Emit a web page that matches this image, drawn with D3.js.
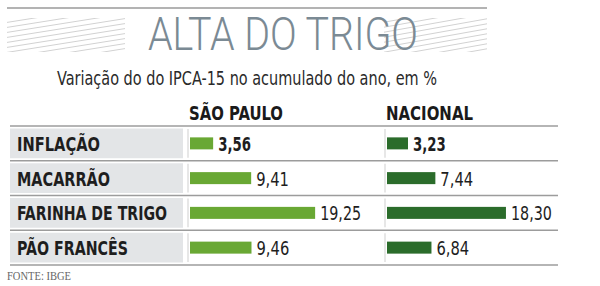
<!DOCTYPE html>
<html>
<head>
<meta charset="utf-8">
<script src="https://cdn.jsdelivr.net/npm/d3@7"></script>
<style>
body { margin: 0; background: #fff; }
svg { display: block; }
</style>
</head>
<body>
<div class="chart"></div>
<script>
var width = 600, height = 286;

var categories = ["INFLAÇÃO", "MACARRÃO", "FARINHA DE TRIGO", "PÃO FRANCÊS"];
var saoPaulo = [3.56, 9.41, 19.25, 9.46];
var nacional = [3.23, 7.44, 18.30, 6.84];
var series = ["SÃO PAULO", "NACIONAL"];

var narrow = "'Liberation Sans Narrow', 'DejaVu Sans Condensed', sans-serif";
var labelWidths = [83, 93, 150, 111];

var svg = d3.select(".chart").append("svg")
    .attr("width", width).attr("height", height);

// top rule
svg.append("line").attr("x1", 7).attr("x2", 487).attr("y1", 8).attr("y2", 8)
    .attr("stroke", "#9a9a9a").attr("stroke-width", 1.5);

// hatching left and right of the title
function hatch(x0, x1) {
    var id = "clip" + x0;
    svg.append("clipPath").attr("id", id).append("rect")
        .attr("x", x0).attr("y", 18).attr("width", x1 - x0).attr("height", 34);
    var g = svg.append("g").attr("clip-path", "url(#" + id + ")");
    for (var i = -5; i < 12; i++) {
        g.append("line")
            .attr("x1", x0 - 10).attr("y1", 20 + i * 5 + 14)
            .attr("x2", x1 + 10).attr("y2", 20 + i * 5 - 8)
            .attr("stroke", "#d2d2d2").attr("stroke-width", 1);
    }
}
hatch(7, 125);
hatch(384, 487);

svg.append("text").attr("x", 148).attr("y", 50)
    .attr("font-family", "Roboto, 'Open Sans', sans-serif").attr("font-weight", 300)
    .attr("font-size", 46).attr("fill", "#7b8a94")
    .attr("textLength", 270).attr("lengthAdjust", "spacingAndGlyphs")
    .text("ALTA DO TRIGO");

svg.append("text").attr("x", 57).attr("y", 85)
    .attr("font-family", narrow).attr("font-size", 20).attr("fill", "#2a2a2a")
    .attr("textLength", 380).attr("lengthAdjust", "spacingAndGlyphs")
    .text("Variação do do IPCA-15 no acumulado do ano, em %");

var y = d3.scaleBand().domain(categories).range([126, 265]).padding(0);
var x = d3.scaleLinear().domain([0, 20]).range([0, 130]);
var fmt = function(d) { return d3.format(".2f")(d).replace(".", ","); };

var cols = [
    {name: series[0], x0: 190, data: saoPaulo, color: "#69a834", head: 94},
    {name: series[1], x0: 387, data: nacional, color: "#2b6c2b", head: 87}
];

// headers
cols.forEach(function(c) {
    svg.append("text").attr("x", c.x0 - 1).attr("y", 120)
        .attr("font-family", narrow).attr("font-weight", "bold")
        .attr("font-size", 19).attr("fill", "#1a1a1a")
        .attr("textLength", c.head).attr("lengthAdjust", "spacingAndGlyphs")
        .text(c.name);
});

// row boxes and labels
var rows = svg.selectAll(".row").data(categories).enter().append("g")
    .attr("class", "row")
    .attr("transform", function(d) { return "translate(0," + y(d) + ")"; });

rows.append("rect").attr("x", 10).attr("y", 2.5).attr("width", 173)
    .attr("height", y.bandwidth() - 5).attr("fill", "#e3e5e7");

rows.append("text").attr("x", 17).attr("y", y.bandwidth() / 2 + 7.5)
    .attr("font-family", narrow).attr("font-weight", "bold")
    .attr("font-size", 20).attr("fill", "#1e1e1e")
    .attr("textLength", function(d, i) { return labelWidths[i]; })
    .attr("lengthAdjust", "spacingAndGlyphs")
    .text(function(d) { return d; });

cols.forEach(function(c) {
    rows.append("line").attr("x1", c.x0 - 2).attr("x2", c.x0 - 2)
        .attr("y1", 3).attr("y2", y.bandwidth() - 3)
        .attr("stroke", "#cfcfcf").attr("stroke-width", 1);
});

// separators
var lines = y.domain().map(function(d) { return y(d); }).concat([y.range()[1]]);
svg.selectAll(".sep").data(lines).enter().append("line")
    .attr("x1", 10).attr("x2", 558)
    .attr("y1", function(d) { return d; }).attr("y2", function(d) { return d; })
    .attr("stroke", "#9c9c9c").attr("stroke-width", 1.5);

// bars and values
cols.forEach(function(c) {
    var g = svg.append("g").attr("transform", "translate(" + c.x0 + ",0)");
    g.selectAll("rect").data(c.data).enter().append("rect")
        .attr("x", 0)
        .attr("y", function(d, i) { return y(categories[i]) + y.bandwidth() / 2 - 6; })
        .attr("width", function(d) { return x(d); })
        .attr("height", 12)
        .attr("fill", c.color);
    g.selectAll("text").data(c.data).enter().append("text")
        .attr("x", function(d) { return x(d) + 5; })
        .attr("y", function(d, i) { return y(categories[i]) + y.bandwidth() / 2 + 7.5; })
        .attr("font-family", narrow)
        .attr("font-weight", function(d, i) { return i === 0 ? "bold" : "normal"; })
        .attr("font-size", 20).attr("fill", "#1e1e1e")
        .attr("textLength", function(d) { return fmt(d).length * 8.2; })
        .attr("lengthAdjust", "spacingAndGlyphs")
        .text(fmt);
});

svg.append("text").attr("x", 7).attr("y", 280)
    .attr("font-family", "'Liberation Serif', 'DejaVu Serif', serif")
    .attr("font-size", 12).attr("fill", "#666")
    .attr("textLength", 64).attr("lengthAdjust", "spacingAndGlyphs")
    .text("FONTE: IBGE");
</script>
</body>
</html>
